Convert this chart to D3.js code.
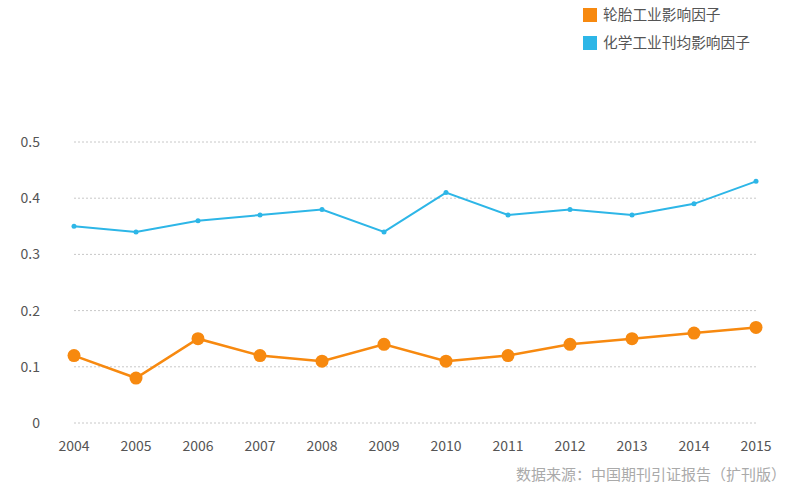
<!DOCTYPE html>
<html><head><meta charset="utf-8">
<script src="https://cdn.jsdelivr.net/npm/d3@7"></script>
<style>body{margin:0;background:#fff;}svg{display:block;font-family:"Noto Sans CJK SC","Noto Sans",sans-serif;}</style>
</head><body>
<svg id="c" width="800" height="497"></svg>
<script>
const years = ["2004","2005","2006","2007","2008","2009","2010","2011","2012","2013","2014","2015"];
const tireValues = [0.12,0.08,0.15,0.12,0.11,0.14,0.11,0.12,0.14,0.15,0.16,0.17];
const chemValues = [0.35,0.34,0.36,0.37,0.38,0.34,0.41,0.37,0.38,0.37,0.39,0.43];
const yTicks = [0,0.1,0.2,0.3,0.4,0.5];
const seriesNames = ["轮胎工业影响因子","化学工业刊均影响因子"];
const colors = ["#f7890f","#2db6e7"];

const svg = d3.select("#c");
const x = d3.scalePoint().domain(years).range([74,756]);
const y = d3.scaleLinear().domain([0,0.5]).range([423,142]);

// grid
svg.append("g").selectAll("line").data(yTicks).join("line")
  .attr("x1",74).attr("x2",756).attr("y1",d=>y(d)).attr("y2",d=>y(d))
  .attr("stroke","#c8c8c8").attr("stroke-width",1).attr("stroke-dasharray","2,2");
svg.append("g").selectAll("text").data(yTicks).join("text")
  .attr("x",40).attr("y",d=>y(d)).attr("dy","0.35em").attr("text-anchor","end")
  .attr("font-size",14).attr("fill","#555").text(d=>d===0?"0":d3.format(".1f")(d));
svg.append("g").selectAll("text").data(years).join("text")
  .attr("x",d=>x(d)).attr("y",451).attr("text-anchor","middle")
  .attr("font-size",14).attr("fill","#555").text(d=>d);

const line = d3.line().x((d,i)=>x(years[i])).y(d=>y(d));
// blue
svg.append("path").datum(chemValues).attr("d",line).attr("fill","none").attr("stroke",colors[1]).attr("stroke-width",2);
svg.append("g").selectAll("circle").data(chemValues).join("circle")
  .attr("cx",(d,i)=>x(years[i])).attr("cy",d=>y(d)).attr("r",2.5).attr("fill",colors[1]);
// orange
svg.append("path").datum(tireValues).attr("d",line).attr("fill","none").attr("stroke",colors[0]).attr("stroke-width",2.5);
svg.append("g").selectAll("circle").data(tireValues).join("circle")
  .attr("cx",(d,i)=>x(years[i])).attr("cy",d=>y(d)).attr("r",6.5).attr("fill",colors[0]);

// legend
const lg = svg.append("g").selectAll("g").data(seriesNames).join("g")
  .attr("transform",(d,i)=>`translate(583,${8+i*28})`);
lg.append("rect").attr("width",14).attr("height",14).attr("fill",(d,i)=>colors[i]);
lg.append("text").attr("x",20).attr("y",7).attr("dy","0.35em").attr("font-size",14.7).attr("fill","#555").text(d=>d);

svg.append("text").attr("x",786).attr("y",480).attr("text-anchor","end")
  .attr("font-size",15).attr("fill","#aaa").text("数据来源：中国期刊引证报告（扩刊版）");
</script>
</body></html>
